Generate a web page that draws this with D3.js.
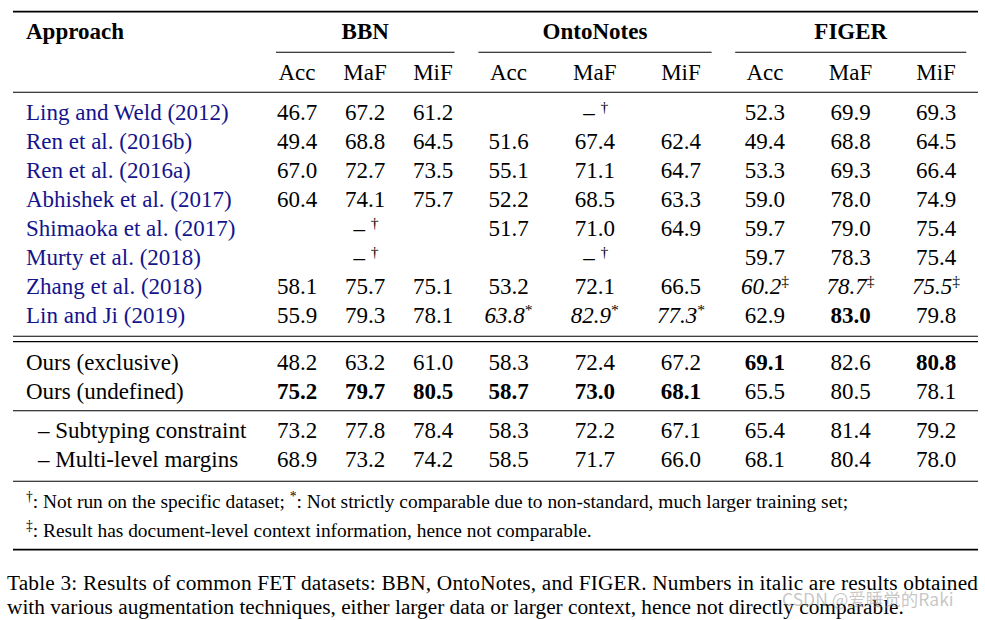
<!DOCTYPE html>
<html>
<head>
<meta charset="utf-8">
<script src="https://cdn.jsdelivr.net/npm/d3@7"></script>
<style>
  html, body { margin: 0; padding: 0; background: #fff; }
  svg { display: block; }
</style>
</head>
<body>
<svg id="chart" width="985" height="620"></svg>
<script>
// ---------------- DATA ----------------
const datasets = ["BBN", "OntoNotes", "FIGER"];
const metrics = ["Acc", "MaF", "MiF"];
const approaches = [
  "Ling and Weld (2012)", "Ren et al. (2016b)", "Ren et al. (2016a)", "Abhishek et al. (2017)",
  "Shimaoka et al. (2017)", "Murty et al. (2018)", "Zhang et al. (2018)", "Lin and Ji (2019)",
  "Ours (exclusive)", "Ours (undefined)",
  "– Subtyping constraint", "– Multi-level margins"
];
// row group: 0 = prior work (cited), 1 = ours, 2 = ablations
const rowGroups = [0,0,0,0,0,0,0,0,1,1,2,2];
// null = not run on the dataset
const bbnValues = [
  [46.7, 67.2, 61.2], [49.4, 68.8, 64.5], [67.0, 72.7, 73.5], [60.4, 74.1, 75.7],
  null, null, [58.1, 75.7, 75.1], [55.9, 79.3, 78.1],
  [48.2, 63.2, 61.0], [75.2, 79.7, 80.5],
  [73.2, 77.8, 78.4], [68.9, 73.2, 74.2]
];
const ontoValues = [
  null, [51.6, 67.4, 62.4], [55.1, 71.1, 64.7], [52.2, 68.5, 63.3],
  [51.7, 71.0, 64.9], null, [53.2, 72.1, 66.5], [63.8, 82.9, 77.3],
  [58.3, 72.4, 67.2], [58.7, 73.0, 68.1],
  [58.3, 72.2, 67.1], [58.5, 71.7, 66.0]
];
const figerValues = [
  [52.3, 69.9, 69.3], [49.4, 68.8, 64.5], [53.3, 69.3, 66.4], [59.0, 78.0, 74.9],
  [59.7, 79.0, 75.4], [59.7, 78.3, 75.4], [60.2, 78.7, 75.5], [62.9, 83.0, 79.8],
  [69.1, 82.6, 80.8], [65.5, 80.5, 78.1],
  [65.4, 81.4, 79.2], [68.1, 80.4, 78.0]
];
// best results [row, dataset, metric]
const bestCells = [
  [7,2,1], [8,2,0], [8,2,2], [9,0,0], [9,0,1], [9,0,2], [9,1,0], [9,1,1], [9,1,2]
];
// non-comparable results [row, dataset, metric, mark]
const markedCells = [
  [7,1,0,"*"], [7,1,1,"*"], [7,1,2,"*"],
  [6,2,0,"‡"], [6,2,1,"‡"], [6,2,2,"‡"]
];
const notRunMark = "†";
const footnotes = [
  [["†", true], [": Not run on the specific dataset; ", false], ["*", true], [": Not strictly comparable due to non-standard, much larger training set;", false]],
  [["‡", true], [": Result has document-level context information, hence not comparable.", false]]
];
const captionLines = [
  "Table 3: Results of common FET datasets: BBN, OntoNotes, and FIGER. Numbers in italic are results obtained",
  "with various augmentation techniques, either larger data or larger context, hence not directly comparable."
];
const watermark = "CSDN @爱睡觉的Raki";

// ---------------- LAYOUT ----------------
const svg = d3.select("#chart");
const FONT = "'Liberation Serif', 'Times New Roman', serif";
const FS = 23;
const citeColor = "#14148c";
const left = 13, right = 978;

const dsRanges = [[263, 467], [465.4, 724.1], [722.2, 978.8]];
const xScales = dsRanges.map(r => d3.scaleBand().domain(metrics).range(r));
const xc = (ds, m) => xScales[ds](m) + xScales[ds].bandwidth() / 2;

const rowY = d3.scaleLinear().domain([0, 1]).range([120, 149]);
const groupOffset = [0, 18, 28];
const yRow = i => rowY(i) + groupOffset[rowGroups[i]];

const g = svg.append("g").attr("font-family", FONT).attr("fill", "#000");

function rule(y, x1, x2, w) {
  g.append("line").attr("x1", x1).attr("x2", x2).attr("y1", y).attr("y2", y)
    .attr("stroke", "#000").attr("stroke-width", w);
}

// rules
rule(11.7, left, right, 1.7);
dsRanges.forEach((r, i) => rule(52.3, r[0] + 13, r[1] - 12.5, 1.1));
rule(92.3, left, right, 1.1);
rule(336.3, left, right, 1.1);
rule(341.6, left, right, 1.1);
rule(410.7, left, right, 1.1);
rule(481.2, left, right, 1.1);
rule(549.6, left, right, 1.8);

// header
g.append("text").attr("x", 26).attr("y", 39).attr("font-size", FS).attr("font-weight", "bold").text("Approach");
g.selectAll("text.ds").data(datasets).join("text").attr("class", "ds")
  .attr("x", (d, i) => (dsRanges[i][0] + 13 + dsRanges[i][1] - 12.5) / 2)
  .attr("y", 39).attr("font-size", FS).attr("font-weight", "bold")
  .attr("text-anchor", "middle").text(d => d);
datasets.forEach((ds, di) => {
  g.selectAll("text.m" + di).data(metrics).join("text").attr("class", "m" + di)
    .attr("x", m => xc(di, m)).attr("y", 80).attr("font-size", FS)
    .attr("text-anchor", "middle").text(m => m);
});

// approach labels
g.selectAll("text.app").data(approaches).join("text").attr("class", "app")
  .attr("x", (d, i) => rowGroups[i] === 2 ? 38 : 26)
  .attr("y", (d, i) => yRow(i)).attr("font-size", FS)
  .attr("fill", (d, i) => rowGroups[i] === 0 ? citeColor : "#000")
  .text(d => d);

// values
const allValues = [bbnValues, ontoValues, figerValues];
const isBest = (r, d, m) => bestCells.some(c => c[0] === r && c[1] === d && c[2] === m);
const markOf = (r, d, m) => { const c = markedCells.find(c => c[0] === r && c[1] === d && c[2] === m); return c ? c[3] : null; };

allValues.forEach((vals, di) => {
  vals.forEach((row, ri) => {
    if (row === null) {
      const t = g.append("text").attr("x", xc(di, "MaF") + 1).attr("y", yRow(ri))
        .attr("font-size", FS).attr("text-anchor", "middle");
      t.append("tspan").text("– ");
      t.append("tspan").attr("font-size", FS * 0.68).attr("dy", -8).text(notRunMark);
      return;
    }
    row.forEach((v, mi) => {
      const m = metrics[mi];
      const mark = markOf(ri, di, mi);
      const t = g.append("text").attr("x", xc(di, m)).attr("y", yRow(ri))
        .attr("font-size", FS).attr("text-anchor", "middle")
        .attr("font-weight", isBest(ri, di, mi) ? "bold" : "normal")
        .attr("font-style", mark ? "italic" : "normal");
      t.append("tspan").text(d3.format(".1f")(v));
      if (mark) t.append("tspan").attr("font-style", "normal").attr("font-size", FS * 0.68).attr("dy", -8).text(mark);
    });
  });
});

// footnotes
const FN = 19.4;
footnotes.forEach((parts, i) => {
  const t = g.append("text").attr("x", 26).attr("y", 508 + 29 * i).attr("font-size", FN);
  let raised = false;
  parts.forEach(([s, sup]) => {
    const sp = t.append("tspan").text(s);
    if (sup) { sp.attr("font-size", FN * 0.7).attr("dy", raised ? 0 : -7); raised = true; }
    else if (raised) { sp.attr("dy", 7); raised = false; }
  });
});

// caption
const CF = 21.3;
captionLines.forEach((line, i) => {
  const t = g.append("text").attr("x", 7).attr("y", 590 + 24 * i).attr("font-size", CF).text(line);
  if (i === 0) t.attr("textLength", right - 7).attr("lengthAdjust", "spacing");
});

// watermark
svg.append("text").attr("x", 782).attr("y", 606)
  .attr("font-family", "'Noto Sans CJK SC', 'Noto Sans', sans-serif")
  .attr("font-size", 17.5).attr("fill", "rgba(150,150,150,0.55)").text(watermark);
</script>
</body>
</html>
